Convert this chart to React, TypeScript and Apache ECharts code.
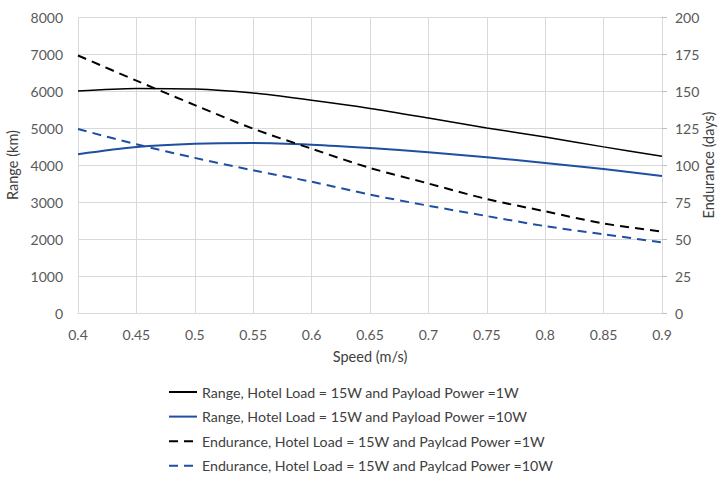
import React, { useEffect, useRef } from "react";
import * as echarts from "echarts";

const speeds = [0.4, 0.45, 0.5, 0.55, 0.6, 0.65, 0.7, 0.75, 0.8, 0.85, 0.9];
const range1W = [6000, 6070, 6055, 5945, 5750, 5530, 5270, 5000, 4755, 4490, 4235];
const range10W = [4290, 4485, 4575, 4595, 4550, 4460, 4345, 4210, 4055, 3890, 3705];
const endurance1W = [174, 157, 140.5, 124.5, 111, 98, 87.5, 77, 68.7, 60.5, 55];
const endurance10W = [124.3, 114, 104.8, 96.4, 88.7, 80, 72.5, 65.5, 58.7, 53.2, 47.7];
const names = [
  "Range, Hotel Load = 15W and Payload Power =1W",
  "Range, Hotel Load = 15W and Payload Power =10W",
  "Endurance, Hotel Load = 15W and Paylcad Power =1W",
  "Endurance, Hotel Load = 15W and Paylcad Power =10W",
];

const BLUE = "#1f4fa0";
const FONT = "Lato";
const DASH = [9, 6];

export default function App() {
  const ref = useRef<HTMLDivElement>(null);
  useEffect(() => {
    document.body.style.margin = "0";
    const chart = echarts.init(ref.current!, null, { renderer: "svg" });
    const pair = (ys: number[]) => speeds.map((x, i) => [x, ys[i]]);
    const nameStyle = { fontSize: 14.5, color: "#404040", fontFamily: FONT };
    chart.setOption({
      animation: false,
      textStyle: { fontFamily: FONT },
      grid: {
        left: 78,
        right: 57,
        top: 17,
        bottom: 164,
        containLabel: false,
        outerBoundsMode: "none",
      },
      xAxis: {
        type: "value",
        min: 0.4,
        max: 0.9,
        interval: 0.05,
        name: "Speed (m/s)",
        nameLocation: "middle",
        nameGap: 36,
        nameTextStyle: nameStyle,
        axisLine: { show: true, lineStyle: { color: "#d9d9d9" } },
        axisTick: { show: false },
        axisLabel: {
          fontSize: 14,
          color: "#595959",
          margin: 14,
          fontFamily: FONT,
          formatter: (v: number) => String(+v.toFixed(2)),
        },
        splitLine: { show: true, lineStyle: { color: "#d9d9d9" } },
      },
      yAxis: [
        {
          type: "value",
          min: 0,
          max: 8000,
          interval: 1000,
          name: "Range (km)",
          nameLocation: "middle",
          nameGap: 59,
          nameTextStyle: { ...nameStyle, verticalAlign: "middle" },
          axisLine: { show: false },
          axisTick: { show: false },
          axisLabel: {
            fontSize: 14,
            color: "#595959",
            margin: 15,
            fontFamily: FONT,
            formatter: (v: number) => String(v),
          },
          splitLine: { show: true, lineStyle: { color: "#d9d9d9" } },
        },
        {
          type: "value",
          min: 0,
          max: 200,
          interval: 25,
          position: "right",
          name: "Endurance (days)",
          nameLocation: "middle",
          nameGap: 46,
          nameRotate: 90,
          nameMoveOverlap: false,
          nameTextStyle: { ...nameStyle, verticalAlign: "middle", align: "center" },
          axisLine: { show: true, lineStyle: { color: "#d9d9d9" } },
          axisTick: { show: true, length: 5, lineStyle: { color: "#bfbfbf" } },
          axisLabel: {
            fontSize: 14,
            color: "#595959",
            margin: 13,
            fontFamily: FONT,
            formatter: (v: number) => String(v),
          },
          splitLine: { show: false },
        },
      ],
      legend: {
        orient: "vertical",
        left: 163,
        top: 380,
        height: 100,
        itemGap: 10.6,
        itemWidth: 28,
        itemHeight: 14,
        itemStyle: { opacity: 0 },
        textStyle: { fontSize: 14.2, color: "#404040", fontFamily: FONT },
        data: [
          { name: names[0] },
          { name: names[1] },
          { name: names[2], lineStyle: { type: DASH, width: 2 } },
          { name: names[3], lineStyle: { type: DASH, width: 2 } },
        ],
      },
      series: [
        {
          name: names[0],
          type: "line",
          yAxisIndex: 0,
          data: pair(range1W),
          smooth: 0.3,
          symbol: "none",
          lineStyle: { color: "#000", width: 1.5 },
          itemStyle: { color: "#000" },
        },
        {
          name: names[1],
          type: "line",
          yAxisIndex: 0,
          data: pair(range10W),
          smooth: 0.3,
          symbol: "none",
          lineStyle: { color: BLUE, width: 2 },
          itemStyle: { color: BLUE },
        },
        {
          name: names[2],
          type: "line",
          yAxisIndex: 1,
          data: pair(endurance1W),
          smooth: 0.3,
          symbol: "none",
          lineStyle: { color: "#000", width: 2, type: DASH },
          itemStyle: { color: "#000" },
        },
        {
          name: names[3],
          type: "line",
          yAxisIndex: 1,
          data: pair(endurance10W),
          smooth: 0.3,
          symbol: "none",
          lineStyle: { color: BLUE, width: 2, type: DASH },
          itemStyle: { color: BLUE },
        },
      ],
    });
    return () => chart.dispose();
  }, []);
  return <div ref={ref} style={{ width: 719, height: 477 }} />;
}
